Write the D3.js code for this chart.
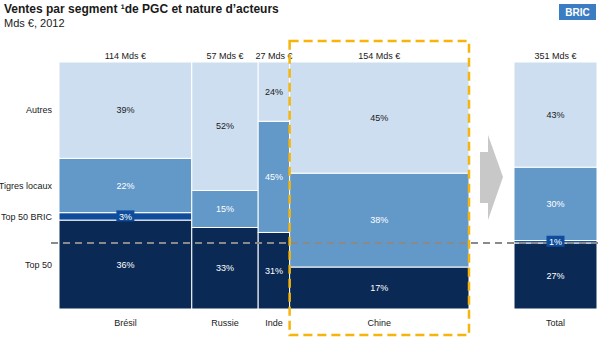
<!DOCTYPE html>
<html>
 <head>
   <title>Ventes par segment de PGC</title>
   <script type="text/javascript" src="https://cdn.jsdelivr.net/npm/d3@7"></script>
   <style type="text/css">
		body {
			margin: 0;
			background: #fff;
		}
		text {
			font-family: "Liberation Sans", Arial, sans-serif;
			font-size: 9px;
			fill: #1a1a1a;
		}
		.title {
			font-size: 12px;
			font-weight: bold;
		}
		.subtitle {
			font-size: 11px;
		}
   </style>
 </head>
 <body>
   <script type="text/javascript">

	// data : ventes en Mds € et répartition par nature d'acteurs (%)
	var pays = ['Brésil', 'Russie', 'Inde', 'Chine'];
	var ventes = [114, 57, 27, 154];
	var segments = ['Top 50', 'Top 50 BRIC', 'Tigres locaux', 'Autres'];
	var top50 = [36, 33, 31, 17];
	var top50Bric = [3, 0, 0, 0];
	var tigres = [22, 15, 45, 38];
	var autres = [39, 52, 24, 45];
	var totalVentes = 351;
	var totalParts = [27, 1, 30, 43];

	var couleurs = ['#0a2a55', '#0f4d9c', '#6399c9', '#cddef0'];
	var couleursTexte = ['#fff', '#fff', '#fff', '#1a1a1a'];

	var W = 600, H = 339;
	var yTop = 62, yBottom = 309;

	var svg = d3.select('body').append('svg')
		.attr('width', W)
		.attr('height', H);

	// titre
	svg.append('text').attr('class', 'title')
		.attr('x', 4).attr('y', 13)
		.text('Ventes par segment \u00b9de PGC et nature d\u2019acteurs');
	svg.append('text').attr('class', 'subtitle')
		.attr('x', 4).attr('y', 27)
		.text('Mds \u20ac, 2012');

	// badge BRIC
	svg.append('rect')
		.attr('x', 559).attr('y', 4)
		.attr('width', 37).attr('height', 16)
		.attr('fill', '#3b7cc3');
	svg.append('text')
		.attr('x', 577.5).attr('y', 15.5)
		.attr('text-anchor', 'middle')
		.style('font-size', '10px').style('font-weight', 'bold')
		.style('fill', '#fff')
		.text('BRIC');

	// colonnes : largeur proportionnelle aux ventes
	var x = d3.scaleLinear()
		.domain([0, d3.sum(ventes)])
		.range([59, 469]);

	var colonnes = pays.map(function(p, i) {
		var x0 = x(d3.sum(ventes.slice(0, i)));
		return {
			nom: p, ventes: ventes[i], x0: x0, x1: x0 + (x(ventes[i]) - x(0)),
			parts: [top50[i], top50Bric[i], tigres[i], autres[i]]
		};
	});
	colonnes.push({ nom: 'Total', ventes: totalVentes, x0: 514, x1: 597, parts: totalParts });

	colonnes.forEach(function(c) {
		var y = d3.scaleLinear()
			.domain([0, d3.sum(c.parts)])
			.range([yBottom, yTop]);
		c.y = y;
		var cum = 0;
		c.rects = c.parts.map(function(v, j) {
			var r = { v: v, j: j, y0: y(cum + v), y1: y(cum) };
			cum += v;
			return r;
		});
	});

	var g = svg.append('g');

	colonnes.forEach(function(c) {
		var cg = g.append('g');

		cg.selectAll('rect').data(c.rects.filter(function(d) { return d.v > 0; }))
			.enter().append('rect')
			.attr('x', c.x0)
			.attr('y', function(d) { return d.y0; })
			.attr('width', c.x1 - c.x0)
			.attr('height', function(d) { return d.y1 - d.y0; })
			.attr('fill', function(d) { return couleurs[d.j]; })
			.attr('stroke', '#fff')
			.attr('stroke-width', 1);

		// valeur en Mds € au-dessus
		cg.append('text')
			.attr('x', (c.x0 + c.x1) / 2).attr('y', 59)
			.attr('text-anchor', 'middle')
			.text(c.ventes + ' Mds \u20ac');

		// nom du pays en dessous
		cg.append('text')
			.attr('x', (c.x0 + c.x1) / 2).attr('y', 326)
			.attr('text-anchor', 'middle')
			.text(c.nom);
	});

	// ligne de référence : niveau Top 50 du total
	var totalCol = colonnes[colonnes.length - 1];
	svg.append('line')
		.attr('x1', 51).attr('x2', W)
		.attr('y1', totalCol.y(totalParts[0])).attr('y2', totalCol.y(totalParts[0]))
		.attr('stroke', '#8a8a8a')
		.attr('stroke-width', 2)
		.attr('stroke-dasharray', '7,5');

	// pourcentages dans les segments
	colonnes.forEach(function(c) {
		var lg = svg.append('g');
		c.rects.filter(function(d) { return d.v > 0; }).forEach(function(d) {
			var cx = (c.x0 + c.x1) / 2, cy = (d.y0 + d.y1) / 2;
			if (d.j == 1) {
				lg.append('rect')
					.attr('x', cx - 9).attr('y', cy - 6)
					.attr('width', 18).attr('height', 11)
					.attr('fill', couleurs[1]);
			}
			lg.append('text')
				.attr('x', cx).attr('y', cy)
				.attr('dy', '0.35em')
				.attr('text-anchor', 'middle')
				.style('fill', couleursTexte[d.j])
				.text(d.v + '%');
		});
	});

	// libellés des segments, alignés sur la colonne Brésil
	var bresil = colonnes[0];
	svg.selectAll('text.seg').data(bresil.rects)
		.enter().append('text')
		.attr('class', 'seg')
		.attr('x', 52)
		.attr('y', function(d) { return (d.y0 + d.y1) / 2; })
		.attr('dy', '0.35em')
		.attr('text-anchor', 'end')
		.text(function(d) { return segments[d.j]; });

	// flèche vers le total
	svg.append('path')
		.attr('d', 'M480,152 L488,152 L488,135 L503,177 L488,220 L488,203 L480,203 Z')
		.attr('fill', '#c8c8c8');

	// cadre pointillé autour de la Chine
	var chine = colonnes[3];
	svg.append('rect')
		.attr('x', chine.x0).attr('y', 41)
		.attr('width', chine.x1 - chine.x0)
		.attr('height', 294)
		.attr('fill', 'none')
		.attr('stroke', '#f5b50a')
		.attr('stroke-width', 2.5)
		.attr('stroke-dasharray', '9,5');

    </script>
 </body>
</html>
